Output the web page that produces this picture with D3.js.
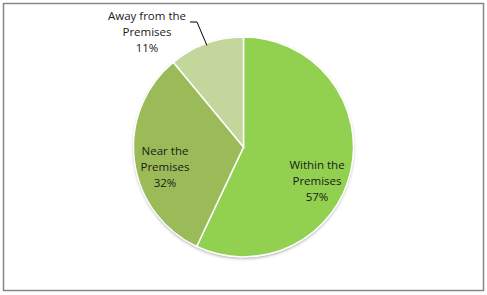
<!DOCTYPE html>
<html>
<head>
<meta charset="utf-8">
<script src="https://cdn.jsdelivr.net/npm/d3@7"></script>
<style>
  body { margin: 0; background: #fff; }
  svg { display: block; }
</style>
</head>
<body>
<div id="chart"></div>
<script>
var categories = ['Within the', 'Near the', 'Away from the'];
var values = [57, 32, 11];
var colors = ['#92D050', '#9BBB59', '#C3D69B'];

var width = 487, height = 295;
var cx = 243.5, cy = 147, radius = 110;

var svg = d3.select('#chart').append('svg')
    .attr('width', width)
    .attr('height', height);

// outer frame
svg.append('rect')
    .attr('x', 3.5).attr('y', 3.5)
    .attr('width', 480).attr('height', 287)
    .attr('fill', '#fff')
    .attr('stroke', '#868686')
    .attr('stroke-width', 1.5);

var defs = svg.append('defs');
var f = defs.append('filter').attr('id', 'shadow')
    .attr('x', '-10%').attr('y', '-10%').attr('width', '120%').attr('height', '120%');
f.append('feDropShadow')
    .attr('dx', 0).attr('dy', 1.5)
    .attr('stdDeviation', 1.5)
    .attr('flood-color', '#000')
    .attr('flood-opacity', 0.35);

var pie = d3.pie().sort(null).value(function(d) { return d; });
var arc = d3.arc().innerRadius(0).outerRadius(radius);
var arcs = pie(values);

var g = svg.append('g').attr('transform', 'translate(' + cx + ',' + cy + ')');

g.append('circle').attr('r', radius).attr('fill', '#fff').attr('filter', 'url(#shadow)');

g.selectAll('path.slice')
    .data(arcs)
    .enter()
    .append('path')
    .attr('class', 'slice')
    .attr('d', arc)
    .attr('fill', function(d, i) { return colors[i]; })
    .attr('stroke', '#fff')
    .attr('stroke-width', 1.5);

// label positions (relative to chart)
var labelPos = [[317, 169], [165, 155], [147, 20]];
var lineH = 16;

var labels = svg.selectAll('text.lbl')
    .data(arcs)
    .enter()
    .append('text')
    .attr('class', 'lbl')
    .attr('text-anchor', 'middle')
    .attr('font-family', 'Open Sans, Noto Sans, sans-serif')
    .attr('font-size', '11.5px')
    .attr('fill', '#1a1a1a');

labels.each(function(d, i) {
    var t = d3.select(this);
    var lines = [categories[i], 'Premises', values[i] + '%'];
    lines.forEach(function(s, k) {
        t.append('tspan')
            .attr('x', labelPos[i][0])
            .attr('y', labelPos[i][1] + k * lineH)
            .text(s);
    });
});

// leader line for the small slice
var away = arcs[2];
var mid = (away.startAngle + away.endAngle) / 2;
var edge = [cx + Math.sin(mid) * (radius - 2), cy - Math.cos(mid) * (radius - 2)];
svg.append('path')
    .attr('d', d3.line()([[190, 22], [197, 22], edge]))
    .attr('fill', 'none')
    .attr('stroke', '#000')
    .attr('stroke-width', 1);
</script>
</body>
</html>
